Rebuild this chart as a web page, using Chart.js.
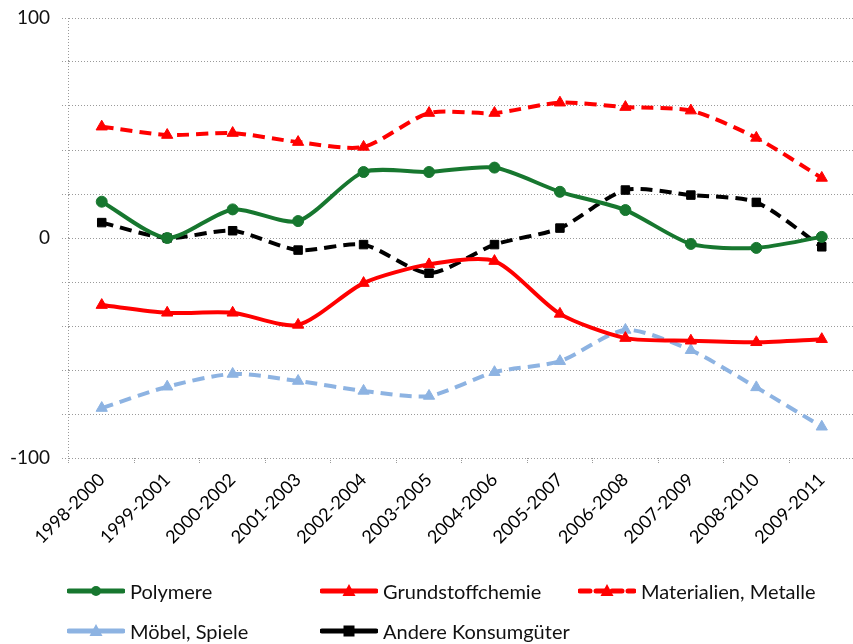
<!DOCTYPE html>
<html lang="de">
<head>
  <meta charset="UTF-8">
  <title>Entwicklung nach Bereichen</title>
  <script src="https://cdn.jsdelivr.net/npm/chart.js"></script>
  <style>
    body { margin: 0; background: #fff; overflow: hidden; font-family: Lato, "Noto Sans", sans-serif; }
    #wrap { position: relative; width: 862px; height: 644px; }
    #legend { position: absolute; left: 67px; top: 571px; display: grid;
              grid-template-columns: 253px 258px auto; grid-auto-rows: 40px; }
    .item { display: flex; align-items: center; font-size: 20px; color: #111; }
    .item svg { margin-right: 5px; }
  </style>
</head>
<body>
  <div id="wrap">
    <canvas id="myChart" width="862" height="644"></canvas>
    <div id="legend"></div>
  </div>
  <script>
    // Daten
    const perioden = ['1998-2000', '1999-2001', '2000-2002', '2001-2003', '2002-2004', '2003-2005',
                      '2004-2006', '2005-2007', '2006-2008', '2007-2009', '2008-2010', '2009-2011'];
    const polymere      = [16.5, 0, 13, 7.7, 30, 30, 32, 21, 12.7, -2.7, -4.5, 0.5];
    const grundstoff    = [-30.5, -34, -34, -39.5, -20.5, -12, -10.5, -34.5, -45.5, -46.7, -47.4, -46];
    const materialien   = [50.6, 46.8, 47.7, 43.6, 41.4, 56.8, 56.8, 61.5, 59.5, 57.9, 45.5, 27.3];
    const moebel        = [-77.3, -67.6, -61.8, -65, -69.5, -71.8, -61, -56, -41.8, -51, -67.9, -85.8];
    const konsumgueter  = [7, 0, 3.3, -5.5, -3, -16, -3, 4.5, 21.8, 19.5, 16.2, -4];
    const yBeschriftung = [-100, 0, 100];

    const GRUEN = '#17772F', ROT = '#FF0000', HELLBLAU = '#8DB3E2', SCHWARZ = '#000000';
    const strich = [12, 7];

    const serien = [
      { label: 'Polymere', data: polymere, color: GRUEN, dash: [], point: 'circle', r: 5.5 },
      { label: 'Grundstoffchemie', data: grundstoff, color: ROT, dash: [], point: 'triangle', r: 6.5 },
      { label: 'Materialien, Metalle', data: materialien, color: ROT, dash: strich, point: 'triangle', r: 6.5, legendDash: true },
      { label: 'Möbel, Spiele', data: moebel, color: HELLBLAU, dash: strich, point: 'triangle', r: 6.5 },
      { label: 'Andere Konsumgüter', data: konsumgueter, color: SCHWARZ, dash: strich, point: 'rect', r: 6 }
    ];

    const ctx = document.getElementById('myChart').getContext('2d');
    const myChart = new Chart(ctx, {
      type: 'line',
      data: {
        labels: perioden,
        datasets: serien.map(s => ({
          label: s.label,
          data: s.data,
          borderColor: s.color,
          backgroundColor: s.color,
          borderWidth: 4,
          borderDash: s.dash,
          tension: 0.25,
          pointStyle: s.point,
          pointRadius: s.r,
          pointBorderWidth: 1,
          pointBorderColor: s.color,
          pointBackgroundColor: s.color
        }))
      },
      options: {
        responsive: false,
        animation: false,
        layout: { padding: { top: 18, right: 0, left: 0, bottom: 0 } },
        plugins: { legend: { display: false }, tooltip: { enabled: false } },
        scales: {
          x: {
            offset: true,
            afterFit: scale => { scale.height = 186; },
            grid: {
              offset: true,
              color: c => c.index === 0 ? '#9a9a9a' : 'rgba(0,0,0,0)',
              tickColor: '#9a9a9a',
              tickLength: 5,
              tickBorderDash: [1, 1]
            },
            border: { display: false, dash: [1, 2] },
            ticks: {
              autoSkip: false, minRotation: 45, maxRotation: 45, padding: 6,
              color: '#000', font: { family: 'Lato', size: 18 }
            }
          },
          y: {
            min: -100, max: 100,
            afterFit: scale => { scale.width = 69; scale.paddingTop = 0; scale.paddingBottom = 0; },
            grid: { color: '#9a9a9a', lineWidth: 1, tickLength: 7, tickColor: '#9a9a9a', tickBorderDash: [1, 2] },
            border: { display: false, dash: [1, 2] },
            ticks: {
              stepSize: 20, padding: 12, color: '#111',
              font: { family: 'Lato', size: 19 },
              callback: v => yBeschriftung.includes(v) ? v : ''
            }
          }
        }
      }
    });

    // Legende wie im Original: drei Spalten, zwei Zeilen
    const legende = document.getElementById('legend');
    serien.forEach(s => {
      const dash = s.legendDash ? 'stroke-dasharray="10 6"' : '';
      let marker;
      if (s.point === 'circle') marker = `<circle cx="29" cy="8" r="5" fill="${s.color}"/>`;
      else if (s.point === 'rect') marker = `<rect x="23.5" y="2.5" width="11" height="11" fill="${s.color}"/>`;
      else marker = `<polygon points="29,1 35.5,13 22.5,13" fill="${s.color}"/>`;
      const el = document.createElement('div');
      el.className = 'item';
      el.innerHTML = `<svg width="58" height="16"><line x1="2" y1="8" x2="56" y2="8" stroke="${s.color}" stroke-width="5" stroke-linecap="round" ${dash}/>${marker}</svg><span>${s.label}</span>`;
      legende.appendChild(el);
    });
  </script>
</body>
</html>
